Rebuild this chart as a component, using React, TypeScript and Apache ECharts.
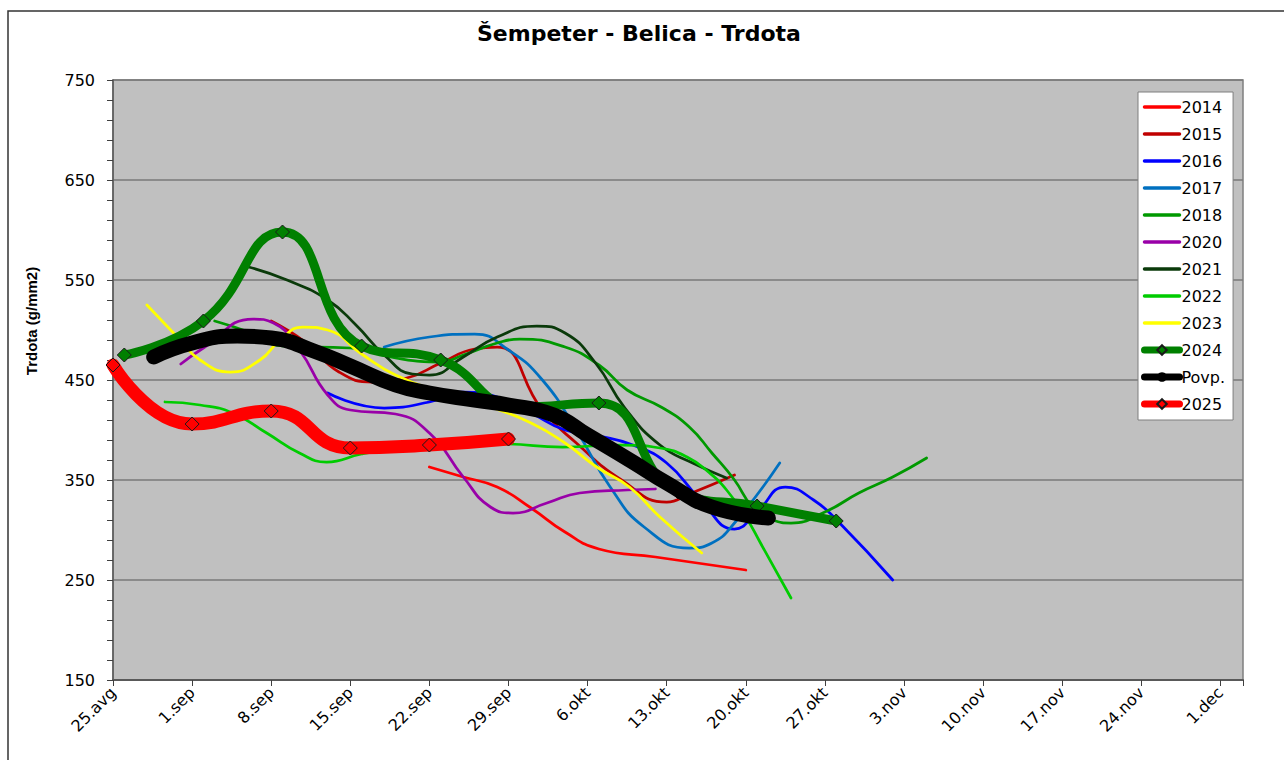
import React, { useEffect, useRef } from "react";
import * as echarts from "echarts";

// x values are days after 25 Aug
const tickLabels = ["25.avg", "1.sep", "8.sep", "15.sep", "22.sep", "29.sep", "6.okt", "13.okt", "20.okt", "27.okt", "3.nov", "10.nov", "17.nov", "24.nov", "1.dec"];

const s2014 = [[28, 363], [31, 353], [34, 343], [37, 322], [40, 298], [43, 281], [48, 273], [56, 260]];
const s2015 = [[14, 509], [17, 488], [20, 458], [23, 448], [26, 452], [29, 467], [32, 481], [34, 483], [38, 420], [41, 387], [45, 350], [49, 328], [51, 336], [55, 355]];
const s2016 = [[19, 437], [24, 422], [28, 428], [31, 438], [34, 433], [37, 417], [40, 400], [43, 394], [46, 385], [49, 367], [52, 330], [55, 301], [57, 318], [59.5, 343], [62, 330], [64.3, 307], [69, 250]];
const s2017 = [[24, 483], [28, 493], [32, 496], [35, 480], [38, 450], [41, 400], [44, 343], [47, 303], [51, 282], [53, 287], [55, 307], [59, 367]];
const s2018 = [[9, 509], [12, 498], [15, 484], [21, 482], [25, 472], [29, 468], [31, 475], [34, 487], [36, 491], [40, 483], [43, 465], [45.5, 440], [48.5, 423], [51, 403], [53, 377], [55, 350], [56.6, 323], [58.4, 310], [60, 307], [63, 318], [66, 337], [69, 353], [72, 372]];
const s2020 = [[6, 466], [8, 482], [12.4, 511], [14.2, 507], [16.5, 480], [19, 435], [21, 420], [25, 416], [28, 397], [31, 353], [33.4, 323], [35.4, 317], [38.4, 327], [41.3, 337], [45.5, 340], [48, 341]];
const s2021 = [[12, 563], [15.4, 550], [19, 530], [21.5, 505], [24, 475], [26.5, 456], [28, 455], [31, 473], [34, 493], [37.5, 504], [40, 497], [42.7, 467], [45.3, 422], [48.4, 385], [51.3, 367], [54.3, 352]];
const s2022 = [[4.6, 428], [7.7, 425], [10.6, 417], [13.6, 397], [16.5, 377], [18.9, 368], [22, 376], [26, 383], [30, 387], [35, 386], [39.8, 383], [45, 385], [48.4, 382], [50.8, 373], [52.8, 357], [54.3, 340], [56, 313], [57.3, 287], [60, 232]];
const s2023 = [[3, 525], [5.7, 493], [7.7, 470], [10.4, 458], [13, 470], [14.8, 490], [16.8, 503], [19, 500], [22, 476], [25, 455], [29, 438], [33.4, 423], [37, 407], [40, 387], [42.8, 363], [45.7, 343], [48.4, 313], [52.1, 277]];
const s2024 = [[1, 475], [8, 509], [15, 598], [22, 484], [29, 470], [36, 423], [43, 427], [50, 338], [57, 324], [64, 309]];
const sPovp = [[3.6, 473], [7, 487], [11, 494], [14, 492], [18, 478], [21, 464], [25, 445], [28, 437], [32, 430], [35, 425], [39, 415], [42, 395], [46, 368], [49, 347], [53, 323], [58, 312]];
const s2025 = [[0, 465], [7, 406], [14, 419], [21, 382], [28, 385], [35, 391]];

const thinNames = ["2014", "2015", "2016", "2017", "2018", "2020", "2021", "2022", "2023"];
const thickNames = ["2024", "Povp.", "2025"];

const FONT = "DejaVu Sans";

function thin(name: string, data: number[][], color: string) {
  return {
    type: "line",
    name,
    data,
    smooth: 0.5,
    symbol: "none",
    lineStyle: { color, width: 2.75, cap: "round", join: "round" },
    itemStyle: { color },
    z: 2,
  };
}

export default function App() {
  const ref = useRef<HTMLDivElement>(null);
  useEffect(() => {
    const chart = echarts.init(ref.current!, null, { renderer: "svg" });
    const legendData = [
      ...thinNames.map((n) => ({ name: n, itemStyle: { opacity: 0, borderWidth: 0 } })),
      ...thickNames.map((n) => ({ name: n, lineStyle: { width: 7 } })),
    ];
    const option: any = {
      animation: false,
      backgroundColor: "#ffffff",
      title: {
        text: "Šempeter - Belica - Trdota",
        left: 477,
        top: 22,
        padding: 0,
        textStyle: { fontFamily: FONT, fontWeight: "bold", fontSize: 22, color: "#000" },
      },
      grid: {
        left: 113,
        right: 41,
        top: 80,
        bottom: 80,
        show: true,
        backgroundColor: "#c0c0c0",
        borderColor: "#7f7f7f",
        borderWidth: 1.5,
      },
      legend: {
        orient: "vertical",
        left: 1138,
        top: 92,
        padding: [7, 8, 8, 3],
        itemWidth: 35,
        itemHeight: 12,
        itemGap: 11,
        backgroundColor: "#ffffff",
        borderColor: "#7f7f7f",
        borderWidth: 1,
        lineStyle: { width: 3.5 },
        textStyle: { fontFamily: FONT, fontSize: 16, color: "#000", lineHeight: 16, padding: [0, 0, 0, -3] },
        data: legendData,
      },
      xAxis: {
        type: "value",
        min: 0,
        max: 100,
        interval: 7,
        axisLine: { show: true, onZero: false, lineStyle: { color: "#595959", width: 2 } },
        axisTick: { show: true, length: 6, lineStyle: { color: "#404040" } },
        axisLabel: {
          rotate: 45,
          margin: 10,
          fontSize: 16,
          fontFamily: FONT,
          color: "#000",
          formatter: (v: number) => {
            const i = Math.round(v / 7);
            return Math.abs(v - i * 7) < 1e-6 && i < tickLabels.length ? tickLabels[i] : "";
          },
        },
        splitLine: { show: false },
      },
      yAxis: {
        type: "value",
        min: 150,
        max: 750,
        interval: 100,
        axisLine: { show: true, lineStyle: { color: "#595959", width: 1.5 } },
        axisTick: { show: true, length: 6, lineStyle: { color: "#404040" } },
        minorTick: { show: true, splitNumber: 5, length: 6, lineStyle: { color: "#404040" } },
        axisLabel: { margin: 18, fontSize: 16, fontFamily: FONT, color: "#000" },
        splitLine: { show: true, lineStyle: { color: "#7a7a7a", width: 1.5 } },
      },
      graphic: [
        {
          type: "rect",
          shape: { x: 8, y: 11, width: 1300, height: 800 },
          style: { fill: "none", stroke: "#333", lineWidth: 1.5 },
          silent: true,
        },
        {
          type: "text",
          x: 31,
          y: 321,
          rotation: Math.PI / 2,
          style: {
            text: "Trdota (g/mm2)",
            font: "bold 15px 'Liberation Sans', Arial, sans-serif",
            fill: "#000",
            align: "center",
            verticalAlign: "middle",
          },
        },
      ],
      series: [
        thin("2014", s2014, "#ff0000"),
        thin("2015", s2015, "#c00000"),
        thin("2016", s2016, "#0000ff"),
        thin("2017", s2017, "#0070c0"),
        thin("2018", s2018, "#009900"),
        thin("2020", s2020, "#9900a8"),
        thin("2021", s2021, "#0a3a0a"),
        thin("2022", s2022, "#00cc00"),
        thin("2023", s2023, "#ffff00"),
        {
          type: "line",
          name: "2024",
          data: s2024,
          smooth: 0.5,
          symbol: "diamond",
          symbolSize: 14,
          showSymbol: true,
          lineStyle: { color: "#008000", width: 9, cap: "round", join: "round" },
          itemStyle: { color: "#008000", borderColor: "#1a1a1a", borderWidth: 1 },
          z: 3,
        },
        {
          type: "line",
          name: "Povp.",
          data: sPovp,
          smooth: 0.5,
          symbol: "circle",
          symbolSize: 10,
          showSymbol: true,
          lineStyle: { color: "#000000", width: 15, cap: "round", join: "round" },
          itemStyle: { color: "#000000" },
          z: 4,
        },
        {
          type: "line",
          name: "2025",
          data: s2025,
          smooth: 0.5,
          symbol: "diamond",
          symbolSize: 14,
          showSymbol: true,
          lineStyle: { color: "#ff0000", width: 13, cap: "round", join: "round" },
          itemStyle: { color: "#ff0000", borderColor: "#1a1a1a", borderWidth: 1 },
          z: 5,
        },
      ],
    };
    chart.setOption(option);
    return () => chart.dispose();
  }, []);
  return (
    <div
      ref={ref}
      style={{ position: "fixed", left: 0, top: 0, width: 1284, height: 760, background: "#fff" }}
    />
  );
}
